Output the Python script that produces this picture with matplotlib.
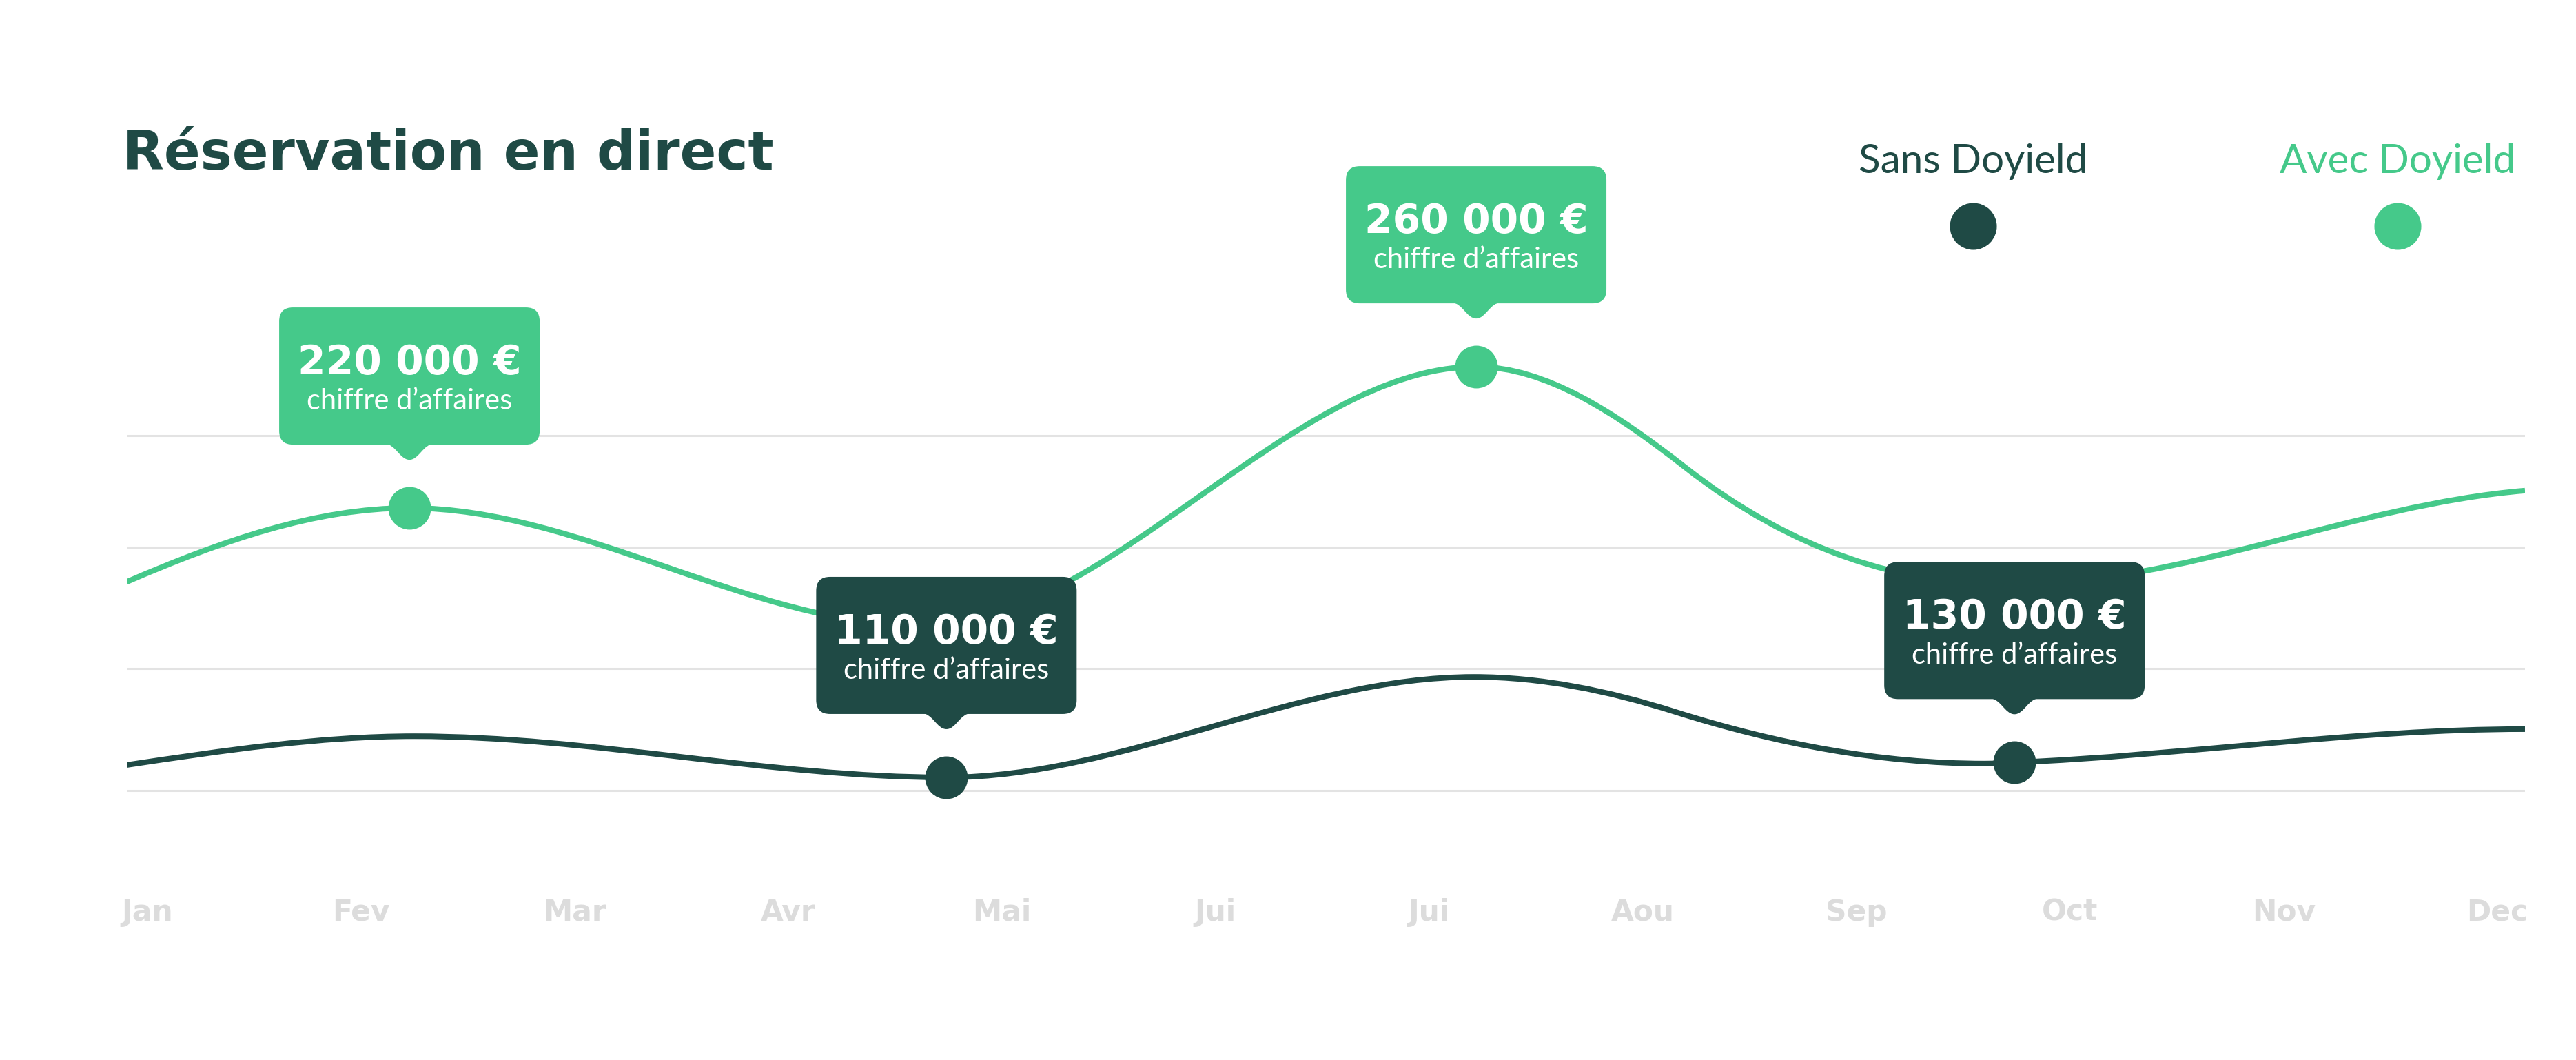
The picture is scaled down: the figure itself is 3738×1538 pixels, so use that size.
import numpy as np
import matplotlib
matplotlib.use("Agg")
import matplotlib.pyplot as plt
from matplotlib.path import Path
from matplotlib.patches import PathPatch, FancyBboxPatch
from matplotlib.lines import Line2D
import matplotlib.transforms as mtransforms

# ---- data (x = month index, y = chart level) ----
months = ["Jan", "Fev", "Mar", "Avr", "Mai", "Jui", "Jui", "Aou", "Sep", "Oct", "Nov", "Dec"]
grid_levels = [0, 34.4, 68.5, 100]

# knots of the smooth curves and the slope read at each knot
avec_x = [-0.097, 1.226, 3.63, 6.22, 7.20, 8.72, 11.13]
avec_y = [58.8, 79.6, 46.4, 119.4, 91.0, 58.0, 84.5]
avec_slope = [26, 0, 0, 0, -47, 0, 5]

sans_x = [-0.097, 1.25, 3.74, 6.21, 7.15, 8.60, 8.74, 11.13]
sans_y = [7.2, 15.3, 3.7, 32.0, 22.2, 7.6, 7.9, 17.3]
sans_slope = [9, 0, 0, 0, -19, 0, 2.5, 0]

# highlighted points
callout_x = [1.226, 3.74, 6.22, 8.74]
callout_y = [79.6, 3.7, 119.4, 7.9]
callout_text = ["220 000 €", "110 000 €", "260 000 €", "130 000 €"]
callout_series = ["avec", "sans", "avec", "sans"]

GREEN = "#45C98A"
DARK = "#1F4A45"
GRID = "#E3E3E3"
MONTH = "#DCDCDC"


def hermite_path(x, y, m):
    # cubic hermite through the knots, written as bezier segments
    verts = [(x[0], y[0])]
    codes = [Path.MOVETO]
    for k in range(len(x) - 1):
        h = x[k + 1] - x[k]
        verts += [(x[k] + h / 3, y[k] + m[k] * h / 3),
                  (x[k + 1] - h / 3, y[k + 1] - m[k + 1] * h / 3),
                  (x[k + 1], y[k + 1])]
        codes += [Path.CURVE4] * 3
    return Path(verts, codes)


fig = plt.figure(figsize=(37.38, 15.38), dpi=100)
W, H = 3738, 1538
ax = fig.add_axes([184 / W, 1 - 1250 / H, 3480 / W, 825 / H])
ax.set_xlim(-0.097, 11.13)
ax.set_ylim(-20, 140.2)
for s in ax.spines.values():
    s.set_visible(False)

ax.set_yticks(grid_levels)
ax.set_yticklabels([])
ax.grid(axis="y", color=GRID, linewidth=2.2)
ax.set_axisbelow(True)
ax.set_xticks(range(len(months)))
ax.set_xticklabels(months, fontsize=30.5, fontweight="bold", color=MONTH, family="DejaVu Sans")
ax.tick_params(length=0, pad=38)

ax.add_patch(PathPatch(hermite_path(avec_x, avec_y, avec_slope), fill=False, edgecolor=GREEN,
                       lw=5.8, capstyle="butt", zorder=3))
ax.add_patch(PathPatch(hermite_path(sans_x, sans_y, sans_slope), fill=False, edgecolor=DARK,
                       lw=5.8, capstyle="butt", zorder=3))

# callouts (box geometry in pixels relative to the marker)
for cx, cy, txt, ser in zip(callout_x, callout_y, callout_text, callout_series):
    col = GREEN if ser == "avec" else DARK
    ax.plot([cx], [cy], "o", ms=44.6, color=col, mec="none", zorder=4, clip_on=False)
    tr = mtransforms.Affine2D() + mtransforms.ScaledTranslation(cx, cy, ax.transData)
    box = FancyBboxPatch((-189, 92), 378, 199, boxstyle="round,pad=0,rounding_size=20",
                         facecolor=col, edgecolor="none", transform=tr, zorder=5, clip_on=False)
    ax.add_artist(box)
    tip = Path([(-36, 93), (-20, 93), (-14, 70), (0, 70), (14, 70), (20, 93), (36, 93), (-36, 93)],
               [Path.MOVETO, Path.CURVE4, Path.CURVE4, Path.CURVE4,
                Path.CURVE4, Path.CURVE4, Path.CURVE4, Path.CLOSEPOLY])
    ax.add_artist(PathPatch(tip, facecolor=col, edgecolor="none", transform=tr, zorder=5,
                            clip_on=False))
    ax.annotate(txt, xy=(cx, cy), xytext=(0, 194), textcoords="offset pixels", ha="center",
                va="baseline", fontsize=42, fontweight="bold", color="white",
                family="DejaVu Sans", zorder=6, annotation_clip=False)
    ax.annotate("chiffre d’affaires", xy=(cx, cy), xytext=(0, 143), textcoords="offset pixels",
                ha="center", va="baseline", fontsize=30, color="white", family="Lato",
                zorder=6, annotation_clip=False)

# title
fig.text(178 / W, 1 - 246 / H, "Réservation en direct", fontsize=56, fontweight="bold",
         color=DARK, family="DejaVu Sans", ha="left", va="baseline")

# legend
for lx, lab, col in [(2863, "Sans Doyield", DARK), (3479, "Avec Doyield", GREEN)]:
    fig.text(lx / W, 1 - 251 / H, lab, fontsize=42, color=col, family="Lato",
             ha="center", va="baseline")
    fig.add_artist(Line2D([lx / W], [1 - 328 / H], marker="o", ms=49, color=col, mec="none",
                          transform=fig.transFigure))

fig.savefig("out.png", dpi=100, facecolor="white")
